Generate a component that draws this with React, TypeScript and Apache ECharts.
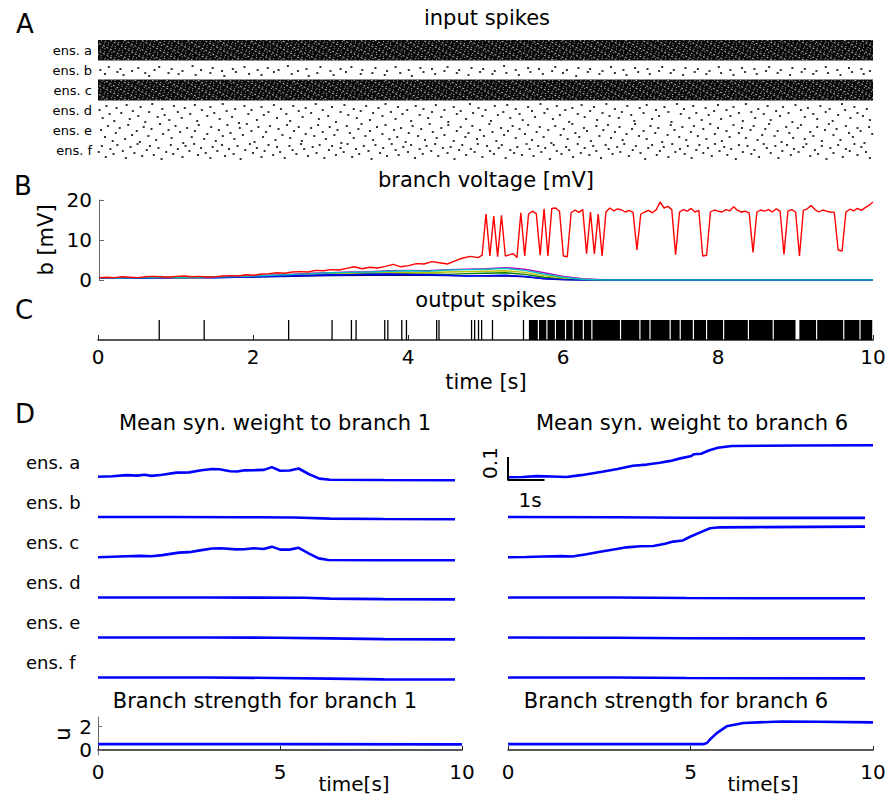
import { useEffect, useRef } from 'react';
import * as echarts from 'echarts';

const FONT = 'DejaVu Sans';

// ---------- Panel A : input spikes ----------
const ensembleLabels = ['ens. a', 'ens. b', 'ens. c', 'ens. d', 'ens. e', 'ens. f'];
// dense ensembles: [end time (s), ensemble] (fire throughout 0..10 s)
const denseEnsembles = [[10, 'ens. a'], [10, 'ens. c']];
// sparse spikes: [time in 1/100 s, row]
const spikesB = [[3,30],[9,34],[14,27],[25,32],[29,29],[33,35],[44,31],[52,28],[61,33],[66,36],[73,30],[79,27],[91,33],[95,29],[104,34],[109,31],[122,26],[126,35],[133,30],[145,33],[148,28],[160,31],[163,36],[174,29],[178,32],[189,27],[195,34],[206,30],[211,35],[219,28],[227,32],[233,30],[245,26],[250,34],[258,31],[269,29],[272,36],[283,33],[287,27],[300,31],[304,35],[313,29],[320,32],[327,27],[339,34],[341,30],[354,33],[358,28],[370,35],[373,31],[384,27],[390,33],[401,30],[405,36],[416,28],[420,32],[431,29],[435,34],[447,31],[451,27],[463,33],[466,30],[478,35],[482,28],[493,32],[497,29],[509,34],[512,31],[524,26],[527,33],[539,30],[543,35],[555,28],[558,32],[569,29],[574,34],[586,31],[590,27],[600,33],[605,30],[617,36],[620,28],[632,32],[635,29],[647,34],[651,31],[662,27],[667,33],[678,30],[682,35],[693,28],[697,32],[709,29],[712,34],[724,31],[728,27],[739,33],[743,30],[755,35],[758,28],[770,32],[774,29],[785,34],[789,31],[801,27],[804,33],[816,30],[820,35],[831,28],[835,32],[847,29],[850,34],[862,31],[866,27],[877,33],[881,30],[893,35],[896,28],[908,32],[912,29],[923,34],[927,31],[939,27],[942,33],[954,30],[958,35],[969,28],[973,32],[985,29],[988,34],[996,31]];
const spikesD = [[2,70],[6,78],[11,66],[15,74],[21,81],[24,68],[30,73],[37,65],[41,79],[45,71],[52,76],[55,67],[61,82],[66,72],[70,64],[77,77],[83,69],[86,75],[92,80],[98,66],[103,72],[108,78],[112,68],[119,74],[125,65],[128,81],[134,70],[141,76],[145,67],[150,73],[157,79],[161,64],[166,71],[173,77],[177,69],[182,83],[189,66],[194,74],[198,70],[205,80],[211,67],[214,75],[220,72],[227,65],[231,78],[236,69],[243,74],[248,81],[252,66],[259,71],[264,77],[268,68],[275,73],[281,64],[285,79],[290,70],[297,76],[302,67],[307,82],[313,72],[318,65],[323,75],[330,69],[334,78],[339,71],[346,66],[351,80],[355,73],[362,68],[367,76],[371,64],[378,72],[384,79],[387,67],[393,74],[399,70],[404,81],[410,66],[415,75],[420,69],[426,78],[431,72],[436,65],[443,77],[447,70],[452,82],[459,67],[463,74],[468,71],[475,79],[480,64],[484,73],[491,68],[496,76],[500,70],[507,81],[512,66],[516,75],[523,72],[528,65],[532,78],[539,69],[544,74],[548,80],[555,67],[560,71],[564,77],[571,64],[576,73],[580,69],[587,79],[592,66],[596,75],[603,70],[608,82],[612,68],[619,74],[624,65],[628,77],[635,71],[640,67],[644,80],[651,73],[656,64],[660,76],[667,69],[672,78],[676,72],[683,66],[688,75],[692,81],[699,68],[704,73],[708,65],[715,79],[720,70],[724,76],[731,67],[736,72],[740,82],[747,64],[752,74],[756,69],[763,78],[768,66],[772,73],[779,80],[784,68],[788,75],[795,71],[800,65],[804,79],[811,70],[816,76],[820,67],[827,73],[832,81],[836,64],[843,72],[848,78],[852,69],[859,74],[864,66],[868,80],[875,71],[880,76],[884,67],[891,73],[896,82],[900,65],[907,70],[912,77],[916,68],[923,74],[928,79],[932,66],[939,72],[944,69],[948,81],[955,75],[960,64],[964,70],[971,78],[976,67],[980,73],[987,76],[992,69],[996,80]];
const spikesE = [[4,90],[9,97],[13,86],[19,101],[23,93],[28,88],[35,99],[39,85],[44,95],[50,91],[54,102],[59,87],[65,96],[69,89],[75,100],[80,84],[84,94],[91,90],[95,98],[100,86],[106,92],[110,103],[115,88],[121,97],[125,91],[130,85],[137,99],[141,94],[146,87],[152,101],[156,90],[161,96],[167,85],[171,93],[176,99],[183,88],[187,95],[192,84],[198,91],[202,102],[207,87],[213,97],[217,92],[222,86],[229,100],[233,89],[238,95],[244,85],[248,98],[253,91],[259,87],[263,101],[268,94],[275,88],[279,96],[284,85],[290,92],[294,99],[299,87],[305,95],[309,90],[314,103],[321,86],[325,93],[330,98],[336,89],[340,84],[345,96],[351,91],[355,100],[360,87],[367,94],[371,85],[376,99],[382,90],[386,97],[391,88],[397,102],[401,93],[406,86],[413,96],[417,89],[422,100],[428,84],[432,92],[437,98],[443,88],[447,95],[452,85],[459,101],[463,91],[468,87],[474,97],[478,93],[483,86],[489,99],[493,90],[498,96],[505,84],[509,92],[514,101],[520,88],[524,95],[529,91],[535,86],[539,98],[544,89],[551,94],[555,85],[560,100],[566,92],[570,87],[575,97],[581,90],[585,103],[590,86],[597,95],[601,89],[606,99],[612,84],[616,93],[621,97],[627,88],[631,91],[636,101],[643,86],[647,96],[652,90],[658,85],[662,98],[667,92],[673,87],[677,100],[682,94],[689,89],[693,84],[698,96],[704,91],[708,99],[713,86],[719,93],[723,88],[728,102],[735,95],[739,85],[744,90],[750,97],[754,87],[759,100],[765,92],[769,86],[774,96],[781,89],[785,99],[790,84],[796,94],[800,88],[805,101],[811,91],[815,97],[820,85],[827,93],[831,88],[836,98],[842,90],[846,86],[851,100],[857,95],[861,89],[866,84],[873,96],[877,91],[882,102],[888,87],[892,93],[897,98],[903,88],[907,85],[912,99],[919,92],[923,96],[928,87],[934,101],[938,90],[943,84],[949,95],[953,89],[958,100],[965,86],[969,93],[974,97],[980,88],[984,91],[989,103],[995,87],[999,94]];
const spikesF = [[1,112],[5,106],[10,117],[16,109],[20,114],[25,105],[32,111],[36,118],[42,107],[47,113],[51,104],[57,116],[63,110],[67,106],[72,115],[78,108],[82,119],[88,112],[94,105],[97,114],[103,109],[109,117],[113,106],[118,111],[124,104],[129,115],[133,108],[139,113],[145,118],[148,107],[154,111],[160,105],[164,116],[169,109],[175,114],[180,106],[184,119],[190,110],[196,104],[200,113],[205,108],[211,117],[215,111],[220,105],[226,115],[231,107],[235,112],[241,118],[247,106],[251,110],[256,114],[262,104],[266,109],[271,116],[277,107],[282,113],[286,105],[292,118],[298,110],[302,106],[307,115],[313,108],[317,112],[322,104],[328,117],[333,109],[337,114],[343,106],[349,111],[353,119],[358,105],[364,113],[368,108],[373,116],[379,104],[384,110],[388,115],[394,107],[400,112],[404,105],[409,118],[415,109],[419,114],[424,106],[430,111],[435,104],[439,116],[445,108],[451,113],[455,107],[460,119],[466,110],[470,105],[475,115],[481,109],[486,112],[490,104],[496,117],[502,106],[506,111],[511,114],[517,108],[521,105],[526,118],[532,110],[537,113],[541,107],[547,115],[553,104],[557,109],[562,116],[568,106],[572,112],[577,108],[583,119],[588,105],[592,111],[598,114],[604,107],[608,110],[613,117],[619,104],[623,113],[628,108],[634,115],[639,106],[643,111],[649,118],[655,105],[659,109],[664,114],[670,107],[674,112],[679,104],[685,116],[690,110],[694,106],[700,113],[706,119],[710,108],[715,105],[721,115],[725,111],[730,107],[736,117],[741,104],[745,112],[751,109],[757,114],[761,106],[766,118],[772,110],[776,105],[781,113],[787,108],[792,116],[796,104],[802,111],[808,107],[812,115],[817,109],[823,119],[827,105],[832,112],[838,106],[843,114],[847,110],[853,117],[859,104],[863,108],[868,113],[874,106],[878,118],[883,111],[889,105],[894,115],[898,109],[904,112],[910,107],[914,104],[919,116],[925,110],[929,114],[934,106],[940,119],[945,108],[949,113],[955,105],[961,117],[965,109],[970,111],[976,104],[980,115],[985,107],[991,112],[996,118]];

// ---------- Panel B : branch voltage [mV] ----------
const voltageRed = [[0,0.6],[0.1,0.7],[0.2,0.6],[0.3,0.8],[0.4,0.7],[0.5,0.6],[0.6,0.8],[0.7,0.9],[0.8,0.8],[0.9,0.7],[1.0,0.9],[1.1,1.0],[1.2,0.8],[1.3,0.9],[1.4,0.7],[1.5,0.8],[1.6,1.0],[1.7,1.1],[1.8,1.0],[1.9,1.3],[2.0,1.2],[2.1,1.5],[2.2,1.6],[2.3,1.8],[2.4,1.7],[2.5,2.0],[2.6,2.1],[2.7,2.0],[2.8,2.4],[2.9,2.3],[3.0,2.6],[3.1,2.5],[3.2,2.9],[3.3,3.3],[3.4,2.8],[3.5,3.2],[3.6,3.0],[3.7,3.4],[3.8,3.9],[3.9,3.3],[4.0,3.6],[4.1,4.1],[4.2,4.0],[4.3,4.6],[4.4,4.3],[4.5,4.0],[4.6,4.8],[4.7,5.5],[4.8,5.9],[4.9,5.6],[4.95,6.2],[5.0,16.5],[5.05,6.0],[5.1,16.0],[5.15,5.8],[5.2,16.2],[5.25,6.0],[5.3,6.3],[5.35,6.6],[5.4,5.6],[5.45,16.8],[5.5,6.0],[5.55,16.5],[5.6,17.2],[5.65,16.6],[5.7,6.2],[5.75,17.8],[5.8,6.0],[5.85,17.9],[5.9,18.0],[5.95,17.2],[6.0,6.0],[6.05,5.8],[6.1,16.8],[6.15,17.5],[6.2,16.9],[6.25,17.6],[6.3,6.6],[6.35,17.0],[6.4,6.5],[6.45,16.5],[6.5,6.0],[6.55,17.0],[6.6,18.0],[6.65,17.3],[6.7,17.8],[6.75,17.5],[6.8,17.0],[6.85,17.4],[6.9,16.9],[6.95,7.5],[7.0,16.5],[7.05,17.0],[7.1,17.4],[7.15,16.8],[7.2,17.6],[7.25,19.5],[7.3,18.0],[7.35,18.4],[7.4,17.6],[7.45,6.3],[7.5,17.0],[7.55,17.6],[7.6,17.2],[7.65,17.9],[7.7,17.0],[7.75,17.4],[7.8,6.0],[7.85,6.2],[7.9,17.0],[7.95,17.5],[8.0,17.2],[8.05,17.0],[8.1,17.6],[8.15,17.3],[8.2,18.3],[8.25,17.4],[8.3,17.0],[8.35,17.2],[8.4,16.8],[8.45,6.9],[8.5,17.0],[8.55,17.5],[8.6,17.2],[8.65,17.6],[8.7,17.0],[8.75,17.8],[8.8,17.2],[8.85,6.4],[8.9,17.2],[8.95,17.6],[9.0,17.0],[9.05,6.0],[9.1,17.4],[9.15,17.8],[9.2,18.6],[9.25,17.6],[9.3,17.0],[9.35,17.5],[9.4,17.2],[9.45,17.0],[9.5,16.9],[9.55,7.5],[9.6,7.2],[9.65,17.0],[9.7,17.7],[9.75,17.3],[9.8,17.9],[9.85,17.4],[9.9,18.1],[9.95,18.7],[10.0,19.5]];
const voltageNavy = [[0,0.45],[0.5,0.5],[1,0.55],[1.5,0.6],[2,0.75],[2.5,0.95],[3,1.1],[3.5,1.2],[4,1.25],[4.5,1.1],[5,1.0],[5.25,1.05],[5.5,0.8],[5.75,0.3],[6,0.05],[6.2,0],[10,0]];
const voltageBlue = [[0,0.5],[0.25,0.5],[0.5,0.45],[0.75,0.55],[1,0.6],[1.25,0.6],[1.5,0.55],[1.75,0.7],[2,0.8],[2.25,0.95],[2.5,1.05],[2.75,1.2],[3,1.3],[3.25,1.35],[3.5,1.45],[3.75,1.5],[4,1.4],[4.25,1.3],[4.5,1.2],[4.75,1.0],[5,1.1],[5.25,1.2],[5.5,0.9],[5.75,0.35],[6,0.1],[6.25,0],[10,0]];
const voltageGreen = [[0,0.5],[0.25,0.55],[0.5,0.5],[0.75,0.6],[1,0.65],[1.25,0.6],[1.5,0.7],[1.75,0.75],[2,0.9],[2.25,1.0],[2.5,1.2],[2.75,1.4],[3,1.5],[3.25,1.6],[3.5,1.7],[3.75,1.8],[4,1.6],[4.25,1.5],[4.5,1.4],[4.75,1.6],[5,1.7],[5.25,1.8],[5.5,1.4],[5.75,0.7],[6,0.25],[6.25,0.05],[6.5,0],[10,0]];
const voltageYellow = [[0,0.5],[0.25,0.5],[0.5,0.55],[0.75,0.6],[1,0.65],[1.25,0.6],[1.5,0.7],[1.75,0.8],[2,0.95],[2.25,1.1],[2.5,1.25],[2.75,1.45],[3,1.6],[3.25,1.7],[3.5,1.8],[3.75,1.9],[4,1.85],[4.25,1.8],[4.5,2.0],[4.75,2.1],[5,2.2],[5.25,2.3],[5.5,1.9],[5.75,1.1],[6,0.5],[6.25,0.15],[6.5,0],[10,0]];
const voltageMagenta = [[0,0.5],[0.25,0.55],[0.5,0.6],[0.75,0.55],[1,0.7],[1.25,0.75],[1.5,0.7],[1.75,0.9],[2,1.05],[2.25,1.25],[2.5,1.45],[2.75,1.7],[3,1.85],[3.25,2.0],[3.5,2.1],[3.75,2.3],[4,2.4],[4.25,2.3],[4.5,2.6],[4.75,2.7],[5,2.8],[5.25,3.1],[5.5,2.7],[5.75,1.8],[6,0.9],[6.25,0.35],[6.5,0.05],[6.6,0],[10,0]];
const voltageCyan = [[0,0.55],[0.25,0.5],[0.5,0.55],[0.75,0.6],[1,0.7],[1.25,0.65],[1.5,0.75],[1.75,0.85],[2,1.0],[2.25,1.2],[2.5,1.4],[2.75,1.6],[3,1.8],[3.25,1.9],[3.5,2.0],[3.75,2.2],[4,2.3],[4.25,2.2],[4.5,2.5],[4.75,2.6],[5,2.7],[5.25,2.9],[5.5,2.4],[5.75,1.5],[6,0.7],[6.25,0.2],[6.5,0],[10,0]];
const voltageTicks = [0, 10, 20];

// ---------- Panel C : output spikes ----------
const outputSpikes = [0.79, 1.37, 2.46, 3.02, 3.27, 3.33, 3.70, 3.74, 3.92, 3.98, 4.37, 4.40, 4.82, 4.86, 4.91, 4.95, 5.09, 5.49];
// dense firing stretches: [tStart, tEnd]
const outputBursts = [[5.56,5.675],[5.69,5.785],[5.80,5.895],[5.91,6.025],[6.04,6.125],[6.14,6.255],[6.27,6.365],[6.38,6.735],[6.75,6.985],[7.0,7.115],[7.13,7.375],[7.39,7.505],[7.52,7.675],[7.69,7.845],[7.86,8.065],[8.08,8.385],[8.40,8.705],[8.72,9.0],[9.05,9.265],[9.28,9.615],[9.63,9.825],[9.84,9.99]];
const timeTicks = [0, 2, 4, 6, 8, 10];

// ---------- Panel D : mean synaptic weights ----------
const wBranch1A = [[0,0.051],[0.4,0.053],[0.8,0.058],[1.1,0.056],[1.3,0.06],[1.5,0.055],[1.8,0.06],[2.2,0.069],[2.55,0.07],[2.9,0.079],[3.2,0.085],[3.4,0.084],[3.7,0.075],[3.9,0.074],[4.1,0.079],[4.4,0.08],[4.65,0.081],[4.87,0.093],[5.1,0.077],[5.37,0.078],[5.62,0.087],[5.9,0.063],[6.2,0.043],[6.5,0.038],[8,0.037],[10,0.036]];
const wBranch1B = [[0,0.05],[2,0.05],[4,0.049],[5.5,0.048],[6.5,0.043],[8,0.041],[10,0.04]];
const wBranch1C = [[0,0.049],[0.4,0.051],[0.8,0.053],[1.2,0.055],[1.5,0.053],[1.8,0.058],[2.27,0.069],[2.55,0.071],[2.9,0.08],[3.2,0.087],[3.45,0.088],[3.87,0.083],[4.1,0.084],[4.36,0.088],[4.64,0.085],[4.87,0.095],[5.1,0.082],[5.37,0.082],[5.62,0.09],[5.9,0.066],[6.18,0.044],[6.46,0.037],[8,0.036],[10,0.036]];
const wBranch1D = [[0,0.05],[3,0.05],[5.8,0.049],[6.5,0.045],[8,0.043],[10,0.042]];
const wBranch1E = [[0,0.05],[3,0.05],[5,0.049],[6.5,0.046],[8,0.043],[10,0.042]];
const wBranch1F = [[0,0.05],[3,0.05],[5,0.048],[6.5,0.045],[8,0.042],[10,0.041]];
const wBranch6A = [[0,0.049],[0.4,0.05],[0.8,0.054],[1.2,0.052],[1.6,0.05],[2.0,0.058],[2.58,0.073],[3.0,0.085],[3.42,0.099],[3.8,0.104],[4.16,0.112],[4.45,0.12],[4.72,0.131],[5.0,0.14],[5.1,0.149],[5.29,0.151],[5.5,0.165],[5.75,0.177],[6.13,0.185],[7,0.186],[8,0.187],[10,0.188]];
const wBranch6B = [[0,0.05],[3,0.049],[5,0.047],[7,0.046],[10,0.046]];
const wBranch6C = [[0,0.049],[0.5,0.05],[1.0,0.052],[1.5,0.054],[1.8,0.052],[2.2,0.062],[2.58,0.073],[3.0,0.084],[3.32,0.092],[3.7,0.097],[4.07,0.098],[4.4,0.108],[4.63,0.117],[4.9,0.122],[5.1,0.138],[5.4,0.158],[5.66,0.175],[5.94,0.179],[7,0.18],[8.5,0.181],[10,0.182]];
const wBranch6D = [[0,0.05],[3,0.05],[5,0.048],[7,0.047],[10,0.047]];
const wBranch6E = [[0,0.05],[3,0.049],[5,0.047],[7,0.046],[10,0.046]];
const wBranch6F = [[0,0.05],[3,0.05],[5,0.048],[7,0.047],[10,0.046]];
const scaleBar = [[1, 0.037], [0, 0.037], [0, 0.137]]; // 1 s, 0.1 weight

// ---------- branch strength u ----------
const strengthBranch1 = [[0,0.5],[5,0.5],[10,0.48]];
const strengthBranch6 = [[0,0.5],[5.35,0.5],[5.45,0.6],[5.55,0.95],[5.72,1.45],[5.99,2.03],[6.45,2.32],[7.5,2.45],[8.5,2.42],[10,2.37]];
const strengthTicks = [0, 2];
const strengthTimeTicks = [0, 5, 10];

export default function App() {
  const ref = useRef<HTMLDivElement>(null);
  useEffect(() => {
    if (!ref.current) return;
    const chart = echarts.init(ref.current, undefined, { renderer: 'svg' });

    const traceBases = [477, 517, 557, 597.5, 637.5, 677.5];
    const grids: any[] = [
      { left: 98, top: 40, width: 775, height: 120 },
      { left: 99, top: 200, width: 774, height: 80 },
      { left: 98, top: 320, width: 775, height: 20 },
    ];
    traceBases.forEach((b) => grids.push({ left: 98, top: b - 34.5, width: 357, height: 46 }));
    traceBases.forEach((b, i) => grids.push({ left: 508, top: b - 34.5, width: i === 0 ? 365 : 357, height: 46 }));
    grids.push({ left: 98, top: 717, width: 364, height: 38 });
    grids.push({ left: 508, top: 717, width: 365, height: 38 });
    grids.forEach((g) => { g.outerBoundsMode = 'none'; g.containLabel = false; });

    const hiddenX = (gi: number) => ({ type: 'value', gridIndex: gi, min: 0, max: 10, show: false });
    const hiddenY = (gi: number, min: number, max: number, inverse = false) => ({ type: 'value', gridIndex: gi, min, max, inverse, show: false });

    const tickLabel = { color: '#000', fontSize: 20, fontFamily: FONT };

    const xAxis: any[] = [
      hiddenX(0),
      hiddenX(1),
      {
        type: 'value', gridIndex: 2, min: 0, max: 10, interval: 2,
        axisLine: { show: true, lineStyle: { color: '#222', width: 1.5 } },
        axisTick: { show: true, inside: true, length: 5, lineStyle: { color: '#222' } },
        axisLabel: { ...tickLabel, margin: 7, customValues: timeTicks },
        splitLine: { show: false },
      },
    ];
    for (let i = 0; i < 12; i++) xAxis.push(hiddenX(3 + i));
    [15, 16].forEach((gi) => xAxis.push({
      type: 'value', gridIndex: gi, min: 0, max: 10, interval: 5,
      axisLine: { show: true, lineStyle: { color: '#222', width: 1.5 } },
      axisTick: { show: true, inside: true, length: 4, lineStyle: { color: '#222' } },
      axisLabel: { ...tickLabel, margin: 7, customValues: strengthTimeTicks },
      splitLine: { show: false },
    }));

    const yAxis: any[] = [
      hiddenY(0, 0, 120, true),
      {
        type: 'category', gridIndex: 0, position: 'left', data: ensembleLabels, inverse: true,
        axisLine: { show: false }, axisTick: { show: false },
        axisLabel: { color: '#000', fontSize: 13, fontFamily: FONT, margin: 6 },
      },
      {
        type: 'value', gridIndex: 1, min: 0, max: 20, interval: 10,
        axisLine: { show: true, lineStyle: { color: '#666', width: 1 } },
        axisTick: { show: true, inside: true, length: 5, lineStyle: { color: '#666' } },
        axisLabel: { ...tickLabel, margin: 7, customValues: voltageTicks },
        splitLine: { show: false },
      },
      hiddenY(2, 0, 1),
    ];
    for (let i = 0; i < 12; i++) yAxis.push(hiddenY(3 + i, 0, 0.2));
    yAxis.push({
      type: 'value', gridIndex: 15, min: -0.43, max: 2.83,
      axisLine: { show: true, lineStyle: { color: '#666', width: 1 } },
      axisTick: { show: true, inside: true, length: 4, customValues: strengthTicks, lineStyle: { color: '#666' } },
      axisLabel: { ...tickLabel, margin: 6, customValues: strengthTicks },
      splitLine: { show: false },
    });
    yAxis.push(hiddenY(16, -0.43, 2.83));

    const series: any[] = [];
    // Panel A: dense ensembles as textured bands
    series.push({
      type: 'bar', xAxisIndex: 0, yAxisIndex: 1, data: denseEnsembles,
      encode: { x: 0, y: 1 }, barWidth: 21, silent: true,
      itemStyle: {
        color: '#0a0a0a',
        decal: {
          symbol: 'rect', symbolSize: 1, color: 'rgba(255,255,255,0.7)',
          dashArrayX: [[1, 3], [2, 2], [1, 2, 1, 4]], dashArrayY: [1, 1, 1, 2], rotation: 0.5,
        },
      },
    });
    [spikesB, spikesD, spikesE, spikesF].forEach((arr) => series.push({
      type: 'scatter', xAxisIndex: 0, yAxisIndex: 0, symbol: 'rect', symbolSize: 2,
      itemStyle: { color: '#000' }, data: arr.map(([t, r]) => [t / 100, r]),
    }));
    // Panel B
    const bLines: [any, string][] = [
      [voltageNavy, '#00007f'], [voltageGreen, '#008000'], [voltageYellow, '#bfbf00'],
      [voltageMagenta, '#bf00bf'], [voltageBlue, '#0000ff'], [voltageCyan, '#00bfbf'], [voltageRed, '#ff0000'],
    ];
    bLines.forEach(([d, c]) => series.push({
      type: 'line', xAxisIndex: 1, yAxisIndex: 2, data: d, showSymbol: false, symbol: 'none',
      lineStyle: { color: c, width: 1.4 },
    }));
    // Panel C
    series.push({
      type: 'custom', xAxisIndex: 2, yAxisIndex: 3, data: outputSpikes.map((t) => [t, 0]),
      encode: { x: 0, y: 1 },
      renderItem: (_p: any, api: any) => {
        const p0 = api.coord([api.value(0), 0]);
        const p1 = api.coord([api.value(0), 1]);
        return { type: 'line', shape: { x1: p0[0], y1: p0[1], x2: p1[0], y2: p1[1] }, style: { stroke: '#000', lineWidth: 1.3 } };
      },
    });
    series.push({
      type: 'custom', xAxisIndex: 2, yAxisIndex: 3, data: outputBursts,
      encode: { x: [0, 1] },
      renderItem: (_p: any, api: any) => {
        const a = api.coord([api.value(0), 1]);
        const b = api.coord([api.value(1), 0]);
        return { type: 'rect', shape: { x: a[0], y: a[1], width: b[0] - a[0], height: b[1] - a[1] }, style: { fill: '#000' } };
      },
    });
    // Panel D
    const left = [wBranch1A, wBranch1B, wBranch1C, wBranch1D, wBranch1E, wBranch1F];
    const right = [wBranch6A, wBranch6B, wBranch6C, wBranch6D, wBranch6E, wBranch6F];
    left.forEach((d, i) => series.push({
      type: 'line', xAxisIndex: 3 + i, yAxisIndex: 4 + i, data: d, showSymbol: false, symbol: 'none',
      lineStyle: { color: '#0000ff', width: 2.6 },
    }));
    right.forEach((d, i) => series.push({
      type: 'line', xAxisIndex: 9 + i, yAxisIndex: 10 + i, data: d, showSymbol: false, symbol: 'none',
      lineStyle: { color: '#0000ff', width: 2.6 },
    }));
    series.push({
      type: 'line', xAxisIndex: 9, yAxisIndex: 10, data: scaleBar, showSymbol: false, symbol: 'none',
      lineStyle: { color: '#000', width: 2 },
    });
    series.push({
      type: 'line', xAxisIndex: 15, yAxisIndex: 16, data: strengthBranch1, showSymbol: false, symbol: 'none',
      lineStyle: { color: '#0000ff', width: 2.6 },
    });
    series.push({
      type: 'line', xAxisIndex: 16, yAxisIndex: 17, data: strengthBranch6, showSymbol: false, symbol: 'none',
      lineStyle: { color: '#0000ff', width: 2.6 },
    });

    const txt = (text: string, x: number, y: number, fontSize: number, extra: any = {}) => ({
      type: 'text', x, y, ...extra,
      style: { text, fontSize, fontFamily: FONT, fill: '#000', textAlign: 'center', textVerticalAlign: 'middle', ...(extra.style || {}) },
    });
    const graphics: any[] = [
      txt('A', 25, 24, 26), txt('B', 23, 186, 26), txt('C', 24, 310, 26), txt('D', 25, 414, 26),
      txt('input spikes', 487, 18, 21),
      txt('branch voltage [mV]', 486, 180, 21),
      txt('output spikes', 486, 300, 21),
      txt('time [s]', 486, 382, 21),
      txt('Mean syn. weight to branch 1', 275, 423, 21),
      txt('Mean syn. weight to branch 6', 692, 423, 21),
      txt('Branch strength for branch 1', 265, 701, 21),
      txt('Branch strength for branch 6', 676, 701, 21),
      txt('time[s]', 354, 784, 20),
      txt('time[s]', 763, 784, 20),
      txt('b [mV]', 46, 240, 21, { rotation: Math.PI / 2 }),
      txt('u', 63, 734, 21, { rotation: Math.PI / 2 }),
      txt('0.1', 490, 463, 20, { rotation: Math.PI / 2 }),
      txt('1s', 530, 500, 20),
    ];
    ensembleLabels.forEach((l, i) => graphics.push(txt(l, 26, 462 + 40 * i, 18, { style: { textAlign: 'left' } })));

    chart.setOption({
      animation: false,
      backgroundColor: '#fff',
      textStyle: { fontFamily: FONT },
      grid: grids,
      xAxis,
      yAxis,
      series,
      graphic: graphics,
    });
    return () => chart.dispose();
  }, []);
  return <div ref={ref} style={{ position: 'fixed', left: 0, top: 0, width: 888, height: 796 }} />;
}
